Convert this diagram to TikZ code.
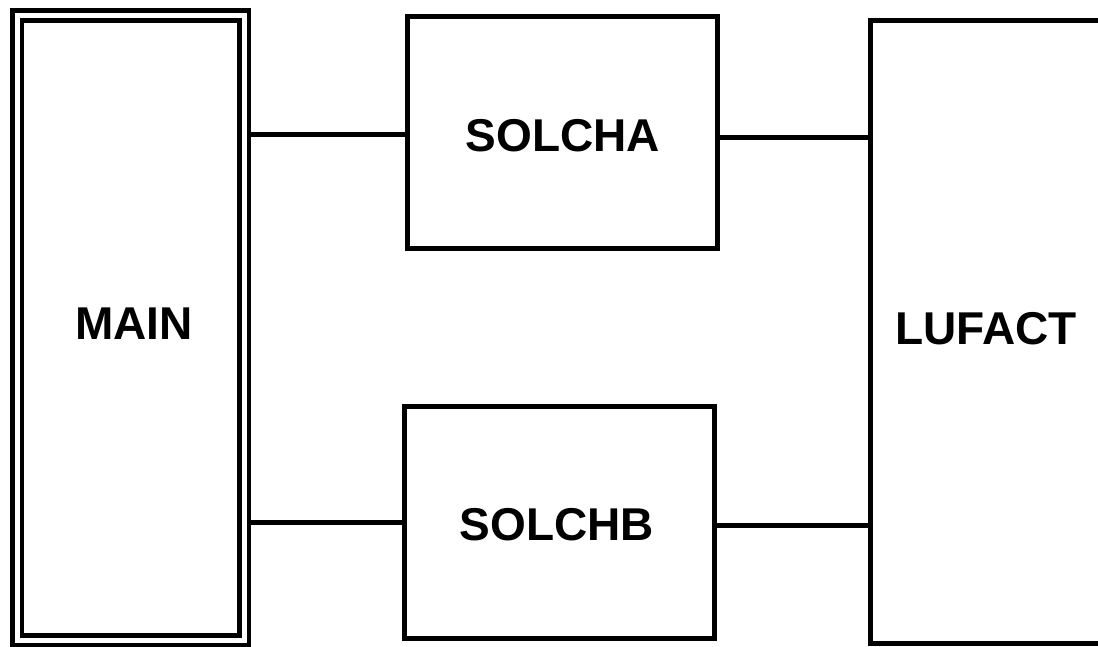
\documentclass[tikz,border=0pt]{standalone}
\usepackage{fontspec}
\setmainfont{Liberation Sans}
\begin{document}
\begin{tikzpicture}[x=1pt, y=-1pt,
    lbl/.style={font=\fontsize{46}{50}\selectfont\bfseries},
    box/.style={draw, line width=5pt, rectangle, outer sep=0pt, inner sep=0pt},
    dbox/.style={box, line width=4.8pt, double, double distance=5pt},
    wire/.style={line width=5pt}]
  \useasboundingbox (0,0) rectangle (1098,646);
  % program units
  \node[dbox, minimum width=227pt, minimum height=624.5pt] (MAIN) at (130.5,327.75) {};
  \node[box, minimum width=310pt, minimum height=232pt] (SOLCHA) at (562,132) {};
  \node[box, minimum width=310pt, minimum height=232pt] (SOLCHB) at (559,522) {};
  \node[box, minimum width=232pt, minimum height=623pt] (LUFACT) at (986,331.5) {};
  % unit names
  \node[lbl] (MAINlbl) at (134,324) {MAIN};
  \node[lbl] (SOLCHAlbl) at (563,136) {SOLCHA};
  \node[lbl] (SOLCHBlbl) at (557,525) {SOLCHB};
  \node[lbl] (LUFACTlbl) at (986,329) {LUFACT};
  % calls
  \draw[wire] ([yshift=-2.5pt]SOLCHA.west) -- ([xshift=5pt,yshift=-2.5pt]SOLCHA.west -| MAIN.east);
  \draw[wire] (SOLCHB.west) -- ([xshift=5pt]SOLCHB.west -| MAIN.east);
  \draw[wire] ([yshift=-5pt]SOLCHA.east) -- ([yshift=-5pt]SOLCHA.east -| LUFACT.west);
  \draw[wire] ([yshift=-3pt]SOLCHB.east) -- ([yshift=-3pt]SOLCHB.east -| LUFACT.west);
\end{tikzpicture}
\end{document}
